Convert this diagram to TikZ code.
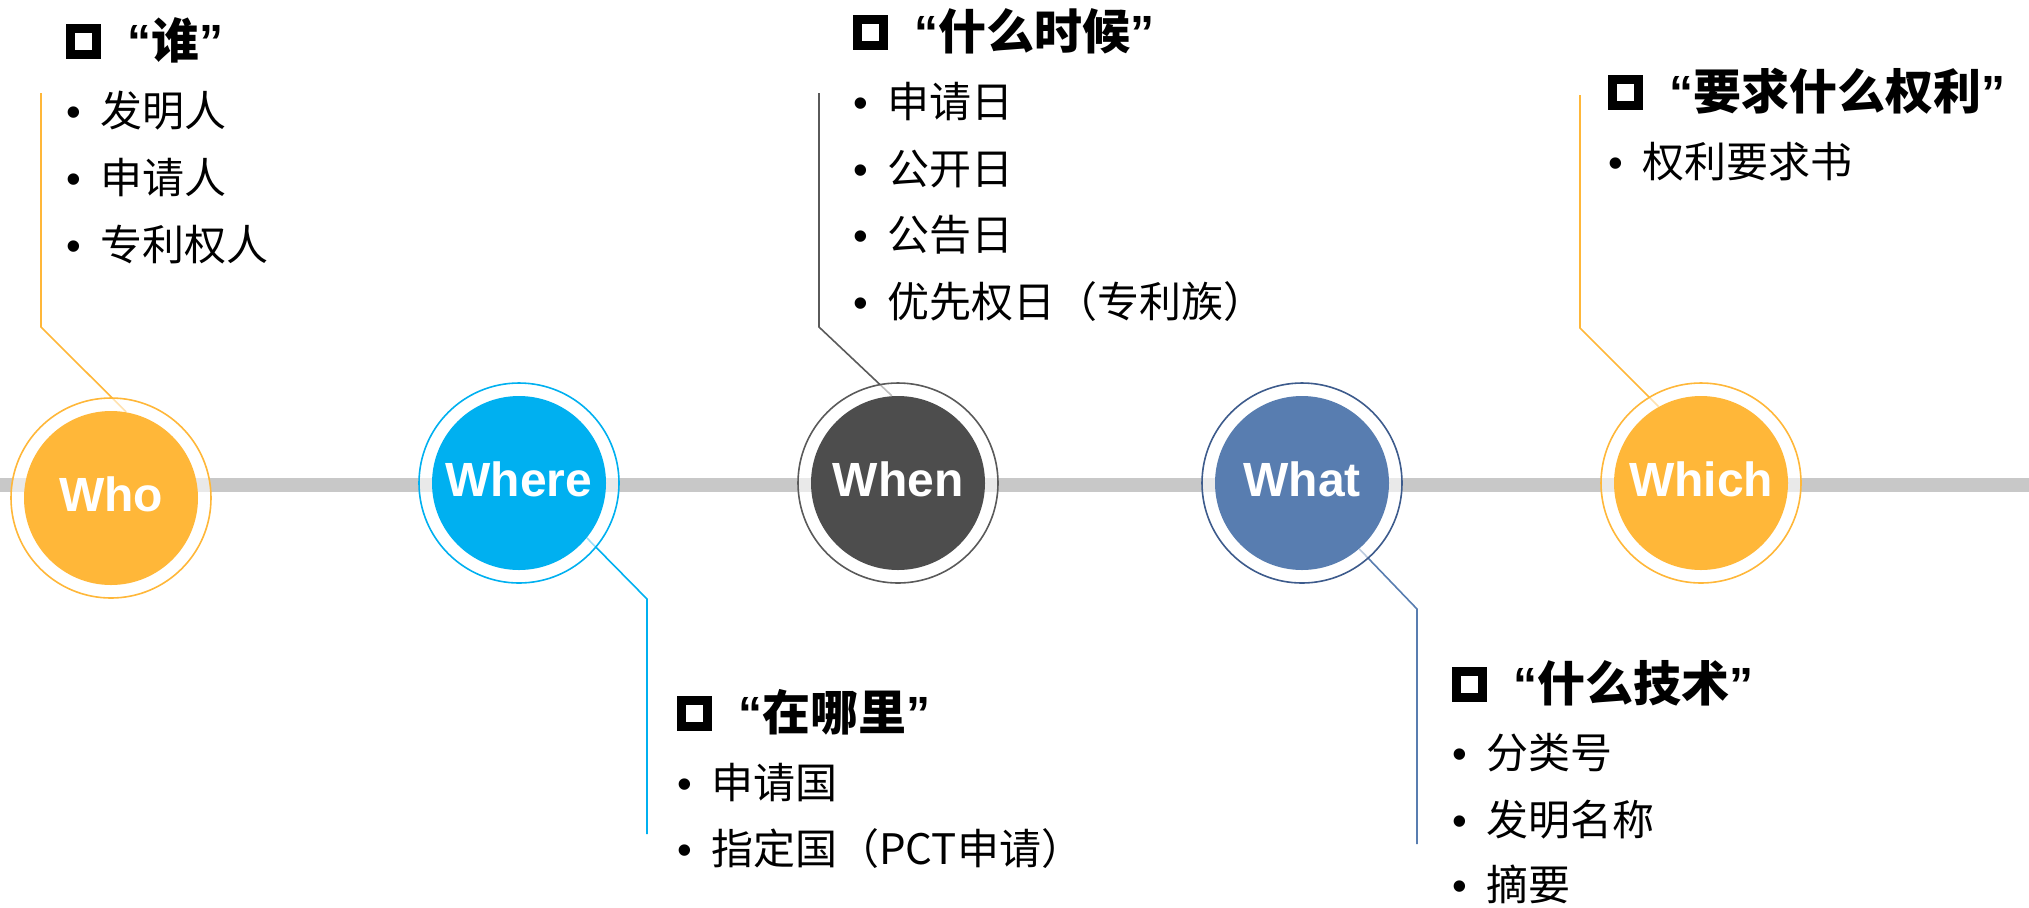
\documentclass[tikz,border=0pt]{standalone}
\usepackage{fontspec}
\setmainfont{Liberation Sans}
\newfontfamily\cjk{Noto Sans CJK SC}
\pgfdeclarelayer{bg}
\pgfsetlayers{bg,main}
\definecolor{cOrange}{HTML}{FFB739}
\definecolor{cBlue}{HTML}{00B0F0}
\definecolor{cDark}{HTML}{4D4D4D}
\definecolor{cDarkLine}{HTML}{5A5A5A}
\definecolor{cSteel}{HTML}{587DB0}
\definecolor{cSteelDark}{HTML}{3D5B8C}
\definecolor{cRail}{HTML}{C8C8C8}
\newcommand\sqbox{\raisebox{4.6pt}{\setlength{\fboxrule}{4.5pt}\setlength{\fboxsep}{0pt}\fbox{\rule{0pt}{8.5pt}\rule{8.5pt}{0pt}}}}
\newcommand\hd[1]{\sqbox\hspace{13pt}{\bfseries “}{\cjk\bfseries #1}{\bfseries ”}}
\newcommand\itm[1]{\makebox[17pt][l]{•}{\cjk #1}}
\begin{document}
\begin{tikzpicture}[x=0.5pt,y=-0.5pt,
  ring/.style={circle, minimum size=100pt, inner sep=0pt, draw=#1, line width=0.8pt, fill=white, fill opacity=0.6, draw opacity=1},
  hub/.style={circle, minimum size=87pt, inner sep=0pt, fill=#1, text=white, font=\bfseries\fontsize{24}{24}\selectfont, text height=17.2pt, text depth=4pt},
  hdr/.style={anchor=west, inner sep=0pt, font=\fontsize{24}{24}\selectfont, text height=20.4pt, text depth=2.64pt},
  itembox/.style={anchor=west, inner sep=0pt, font=\fontsize{21}{21}\selectfont, text height=17.85pt, text depth=2.31pt},
  conn/.style={draw=#1, line width=0.8pt},
  rail/.style={draw=cRail, line width=7pt}]
\useasboundingbox (0,0) rectangle (2029,907);

% rings and hubs
\node[ring=cOrange] (whoRing) at (111,498) {};
\node[hub=cOrange] (who) at (111,498) {Who};
\node[ring=cBlue] (whereRing) at (519,483) {};
\node[hub=cBlue] (where) at (519,483) {Where};
\node[ring=cDarkLine] (whenRing) at (898,483) {};
\node[hub=cDark] (when) at (898,483) {When};
\node[ring=cSteelDark] (whatRing) at (1302,483) {};
\node[hub=cSteel] (what) at (1302,483) {What};
\node[ring=cOrange] (whichRing) at (1701,483) {};
\node[hub=cOrange] (which) at (1701,483) {Which};

% free ends and knees
\coordinate (railL) at (0,485);
\coordinate (railR) at (2029,485);
\coordinate (whoTop) at (41,93);
\coordinate (whoKnee) at (41,327);
\coordinate (whenTop) at (819,93);
\coordinate (whenKnee) at (819,327);
\coordinate (whichTop) at (1580,95);
\coordinate (whichKnee) at (1580,328);
\coordinate (whereKnee) at (647,599);
\coordinate (whereBot) at (647,834);
\coordinate (whatKnee) at (1417,609);
\coordinate (whatBot) at (1417,844);

\begin{pgfonlayer}{bg}
\draw[rail] (railL) -- (railR);
\draw[conn=cOrange] (whoTop) -- (whoKnee) -- (who.80);
\draw[conn=cDarkLine] (whenTop) -- (whenKnee) -- (when.94);
\draw[conn=cOrange] (whichTop) -- (whichKnee) -- (which.119);
\draw[conn=cBlue] (where.-39) -- (whereKnee) -- (whereBot);
\draw[conn=cSteel] (what.-49) -- (whatKnee) -- (whatBot);
\end{pgfonlayer}

% Who block
\node[hdr] (whoH) at (66,41) {\hd{谁}};
\node[itembox] (whoI1) at (66,111) {\itm{发明人}};
\node[itembox] (whoI2) at (66,178) {\itm{申请人}};
\node[itembox] (whoI3) at (66,245) {\itm{专利权人}};

% When block
\node[hdr] (whenH) at (853,32) {\hd{什么时候}};
\node[itembox] (whenI1) at (853,102) {\itm{申请日}};
\node[itembox] (whenI2) at (853,169) {\itm{公开日}};
\node[itembox] (whenI3) at (853,235) {\itm{公告日}};
\node[itembox] (whenI4) at (853,302) {\itm{优先权日（专利族）}};

% Where block
\node[hdr] (whereH) at (677,713) {\hd{在哪里}};
\node[itembox] (whereI1) at (677,783) {\itm{申请国}};
\node[itembox] (whereI2) at (677,849) {\itm{指定国（PCT申请）}};

% What block
\node[hdr] (whatH) at (1452,684) {\hd{什么技术}};
\node[itembox] (whatI1) at (1452,753) {\itm{分类号}};
\node[itembox] (whatI2) at (1452,820) {\itm{发明名称}};
\node[itembox] (whatI3) at (1452,885) {\itm{摘要}};

% Which block
\node[hdr] (whichH) at (1608,92) {\hd{要求什么权利}};
\node[itembox] (whichI1) at (1608,162) {\itm{权利要求书}};
\end{tikzpicture}
\end{document}
